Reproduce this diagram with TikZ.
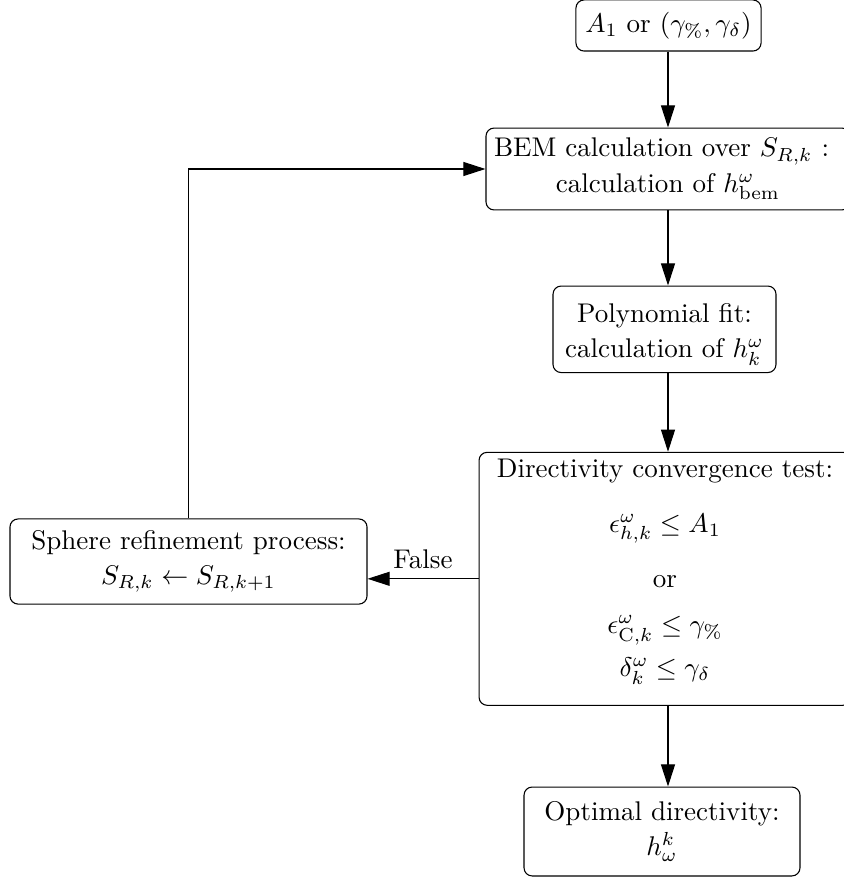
\documentclass[tikz,border=0pt]{standalone}
\usetikzlibrary{arrows.meta}
\begin{document}
\begin{tikzpicture}[x=0.37pt,y=-0.37pt,
  box/.style={draw, rounded corners=3pt, align=center, inner sep=0pt},
  arr/.style={-{Triangle[length=8.2pt,width=5.2pt]}}]
\useasboundingbox (0,0) rectangle (843,879);
\node[box, minimum width=68.5pt, minimum height=18.9pt] (top) at (668.5,25.5)
  {$A_1$ or $(\gamma_{\%}, \gamma_\delta)$};
\node[box, minimum width=134.7pt, minimum height=30.3pt] (bem) at (668,169)
  {BEM calculation over $S_{R,k}$ :\hspace*{4.8pt}\\[1pt] calculation of $h^\omega_{\mathrm{bem}}$};
\node[box, minimum width=82.5pt, minimum height=32pt] (poly) at (664.5,329.3)
  {\raisebox{0pt}[\dimexpr\height+3.6pt]{Polynomial fit:}\\[1pt] calculation of $h^\omega_k$};
\node[box, minimum width=137.6pt, minimum height=93.6pt] (dir) at (665,578.8)
  {Directivity convergence test:\\[8.3pt]
   $\epsilon^\omega_{h,k} \le A_1$\\[8.4pt]
   or\\[5pt]
   $\epsilon^\omega_{\mathrm{C},k} \le \gamma_{\%}$\\[3.9pt]
   \raisebox{0pt}[\height][\dimexpr\depth+5.4pt]{$\delta^\omega_k \le \gamma_\delta$}};
\node[box, minimum width=102.1pt, minimum height=32.9pt] (opt) at (662,831.5)
  {Optimal directivity:\\[1pt] $h^k_\omega$};
\node[box, minimum width=132.1pt, minimum height=31.5pt] (sph) at (188.5,561.5)
  {Sphere refinement process:\\[1pt] $S_{R,k} \leftarrow S_{R,k+1}$};
\coordinate (col) at (668,0);
\draw[arr] (top.south -| col) -- (bem.north -| col);
\draw[arr] (bem.south -| col) -- (poly.north -| col);
\draw[arr] (poly.south -| col) -- (dir.north -| col);
\draw[arr] (dir.south -| col) -- (opt.north -| col);
\draw[arr] (dir.west) -- (dir.west -| sph.east) node[midway, above] {False};
\draw[arr] (sph.north) |- (bem.west);
\end{tikzpicture}
\end{document}
